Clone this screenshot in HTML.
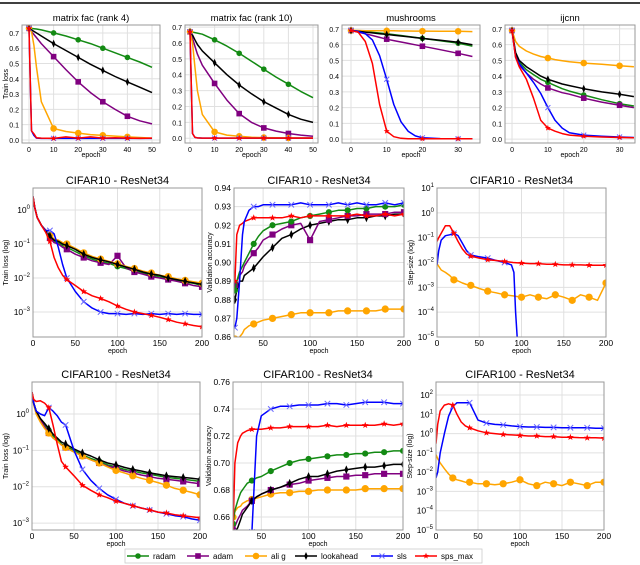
<!DOCTYPE html>
<html><head><meta charset="utf-8">
<style>
html,body{margin:0;padding:0;background:#fff;overflow:hidden;width:640px;height:565px;}
svg{display:block;font-family:"Liberation Sans",sans-serif;}
</style></head>
<body>
<svg id="fig" width="640" height="565" viewBox="0 0 640 565" xmlns="http://www.w3.org/2000/svg">
<rect x="0" y="0" width="640" height="565" fill="#fff"/>
<line x1="0" y1="3" x2="640" y2="3" stroke="#000" stroke-width="1.6"/>
</svg>
<script>
// ===== data: matrix fac rank 4 =====
const mf4Epochs=[0,1,2,3,5,10,15,20,25,30,35,40,45,50];
const mf4Radam=[0.73,0.73,0.728,0.726,0.72,0.70,0.68,0.655,0.63,0.60,0.57,0.54,0.51,0.475];
const mf4Adam=[0.73,0.71,0.69,0.67,0.63,0.545,0.46,0.38,0.31,0.25,0.20,0.155,0.125,0.105];
const mf4Alig=[0.73,0.71,0.62,0.48,0.25,0.075,0.055,0.045,0.035,0.03,0.025,0.02,0.016,0.012];
const mf4Look=[0.73,0.72,0.71,0.70,0.68,0.63,0.585,0.54,0.495,0.455,0.415,0.38,0.345,0.31];
const mf4Sls=[0.73,0.06,0.03,0.012,0.01,0.01,0.01,0.01,0.01,0.01,0.01,0.01,0.01,0.01];
const mf4Sps=[0.73,0.06,0.04,0.015,0.012,0.01,0.02,0.012,0.02,0.012,0.015,0.012,0.01,0.012];
// ===== matrix fac rank 10 =====
const mf10Epochs=[0,1,2,3,5,10,15,20,25,30,35,40,45,50];
const mf10Radam=[0.67,0.668,0.665,0.662,0.655,0.62,0.58,0.535,0.485,0.435,0.385,0.34,0.295,0.255];
const mf10Adam=[0.67,0.63,0.58,0.53,0.46,0.345,0.24,0.155,0.10,0.065,0.045,0.03,0.02,0.012];
const mf10Alig=[0.67,0.6,0.45,0.3,0.15,0.04,0.02,0.012,0.006,0.004,0.003,0.002,0.002,0.002];
const mf10Look=[0.67,0.65,0.62,0.59,0.55,0.475,0.40,0.335,0.28,0.23,0.19,0.15,0.12,0.10];
const mf10Sls=[0.67,0.03,0.005,0.002,0.001,0.001,0.001,0.001,0.001,0.001,0.001,0.001,0.001,0.001];
const mf10Sps=[0.67,0.03,0.006,0.002,0.001,0.001,0.001,0.001,0.001,0.001,0.001,0.001,0.001,0.001];
// ===== mushrooms =====
const mushEpochs=[0,2,4,6,8,10,12,14,16,18,20,25,30,34];
const mushRadam=[0.69,0.686,0.682,0.678,0.674,0.67,0.664,0.658,0.652,0.646,0.64,0.625,0.61,0.59];
const mushAdam=[0.69,0.68,0.669,0.658,0.646,0.635,0.626,0.617,0.608,0.599,0.59,0.568,0.545,0.525];
const mushAlig=[0.69,0.69,0.689,0.689,0.689,0.688,0.688,0.687,0.687,0.686,0.686,0.685,0.685,0.683];
const mushLook=[0.69,0.685,0.68,0.675,0.67,0.665,0.66,0.655,0.65,0.645,0.64,0.628,0.615,0.60];
const mushSls=[0.69,0.685,0.67,0.63,0.53,0.38,0.22,0.11,0.05,0.02,0.008,0.003,0.002,0.002];
const mushSps=[0.69,0.68,0.62,0.48,0.22,0.05,0.015,0.005,0.002,0.002,0.002,0.002,0.002,0.002];
// ===== ijcnn =====
const ijEpochs=[0,1,2,4,6,8,10,12,14,16,20,25,30,34];
const ijRadam=[0.69,0.54,0.49,0.44,0.41,0.38,0.36,0.34,0.32,0.305,0.28,0.25,0.225,0.21];
const ijAdam=[0.69,0.53,0.47,0.42,0.38,0.35,0.325,0.31,0.295,0.285,0.26,0.235,0.215,0.20];
const ijAlig=[0.69,0.62,0.59,0.56,0.54,0.525,0.515,0.505,0.498,0.492,0.483,0.475,0.466,0.46];
const ijLook=[0.69,0.55,0.50,0.46,0.43,0.40,0.38,0.365,0.35,0.34,0.32,0.30,0.285,0.27];
const ijSls=[0.69,0.52,0.48,0.42,0.36,0.29,0.20,0.12,0.07,0.04,0.025,0.018,0.013,0.01];
const ijSps=[0.69,0.52,0.46,0.38,0.26,0.12,0.07,0.05,0.035,0.025,0.018,0.013,0.01,0.008];
// ===== CIFAR10 train loss =====
const c10Epochs=[0,2,5,10,15,20,25,30,35,40,50,60,70,80,90,100,110,120,130,140,150,160,170,180,190,200];
const c10LossRadam=[2.5,1.2,0.6,0.35,0.25,0.16,0.12,0.11,0.09,0.08,0.06,0.045,0.036,0.03,0.027,0.022,0.019,0.016,0.014,0.012,0.011,0.0095,0.0085,0.0075,0.007,0.006];
const c10LossAdam=[2.5,1.2,0.6,0.35,0.24,0.15,0.11,0.10,0.08,0.07,0.05,0.04,0.032,0.028,0.025,0.045,0.02,0.015,0.013,0.011,0.010,0.009,0.008,0.007,0.006,0.0055];
const c10LossAlig=[2.5,1.2,0.6,0.35,0.26,0.18,0.14,0.13,0.11,0.10,0.075,0.055,0.043,0.036,0.031,0.026,0.022,0.019,0.016,0.014,0.012,0.011,0.0095,0.0085,0.0078,0.007];
const c10LossLook=[2.5,1.2,0.6,0.35,0.25,0.17,0.13,0.12,0.10,0.09,0.07,0.05,0.04,0.034,0.03,0.025,0.021,0.018,0.015,0.013,0.012,0.010,0.009,0.008,0.0072,0.0065];
const c10LossSls=[2.5,1.2,0.6,0.35,0.25,0.25,0.2,0.08,0.025,0.01,0.004,0.002,0.0013,0.001,0.0009,0.0009,0.00085,0.0009,0.00085,0.0009,0.00085,0.0009,0.00085,0.0009,0.00085,0.00085];
const c10LossSps=[2.5,1.2,0.6,0.35,0.22,0.12,0.04,0.02,0.012,0.009,0.006,0.004,0.003,0.0025,0.002,0.0015,0.0012,0.001,0.0009,0.0008,0.0007,0.0006,0.0005,0.00045,0.0004,0.00037];
// ===== CIFAR10 validation accuracy =====
const c10AccEpochs=[20,22,25,28,30,35,40,45,50,60,70,80,90,100,110,120,130,140,150,160,170,180,190,200];
const c10AccRadam=[0.885,0.89,0.895,0.898,0.90,0.905,0.91,0.914,0.917,0.92,0.921,0.922,0.924,0.925,0.926,0.927,0.928,0.928,0.929,0.929,0.93,0.93,0.93,0.931];
const c10AccAdam=[0.888,0.89,0.893,0.895,0.898,0.902,0.905,0.908,0.912,0.915,0.918,0.92,0.921,0.912,0.922,0.923,0.924,0.925,0.925,0.926,0.926,0.926,0.927,0.927];
const c10AccAlig=[0.855,0.858,0.86,0.862,0.864,0.866,0.867,0.868,0.869,0.870,0.871,0.872,0.873,0.873,0.873,0.873,0.874,0.874,0.874,0.874,0.874,0.875,0.875,0.875];
const c10AccLook=[0.88,0.885,0.89,0.89,0.893,0.895,0.897,0.90,0.903,0.908,0.913,0.915,0.918,0.92,0.921,0.922,0.923,0.923,0.924,0.924,0.925,0.925,0.926,0.926];
const c10AccSls=[0.865,0.87,0.89,0.915,0.922,0.928,0.930,0.930,0.931,0.931,0.931,0.931,0.932,0.931,0.931,0.931,0.932,0.931,0.932,0.931,0.931,0.932,0.931,0.932];
const c10AccSps=[0.89,0.915,0.92,0.921,0.922,0.923,0.924,0.924,0.924,0.924,0.924,0.925,0.924,0.925,0.925,0.925,0.925,0.925,0.926,0.925,0.925,0.926,0.925,0.926];
// ===== CIFAR10 step size =====
const c10StepEpochs=[0,2,5,10,15,20,25,30,35,40,50,60,70,80,90,100,110,120,130,140,150,160,170,180,190,200];
const c10StepAlig=[0.009,0.007,0.005,0.004,0.003,0.002,0.0018,0.0015,0.0013,0.0012,0.0009,0.0007,0.0006,0.0005,0.00045,0.0004,0.0005,0.0004,0.00035,0.0005,0.0004,0.0003,0.0005,0.0004,0.0003,0.0015];
const c10StepSps=[0.07,0.1,0.15,0.3,0.3,0.15,0.07,0.035,0.022,0.018,0.015,0.013,0.012,0.011,0.01,0.0095,0.009,0.009,0.0085,0.0085,0.008,0.008,0.008,0.0078,0.0078,0.0078];
const c10SlsEpochs=[0,2,5,10,15,20,25,30,35,40,50,60,70,80,88,91,93,95];
const c10StepSls=[0.008,0.03,0.08,0.12,0.13,0.15,0.12,0.06,0.03,0.02,0.017,0.015,0.012,0.01,0.008,0.004,0.0001,0.000001];
// ===== CIFAR100 train loss =====
const c100Epochs=[0,2,5,10,15,20,25,30,35,40,50,60,70,80,90,100,110,120,130,140,150,160,170,180,190,200];
const c100LossRadam=[4,2,1.2,0.7,0.5,0.35,0.25,0.2,0.15,0.13,0.1,0.075,0.06,0.05,0.04,0.035,0.03,0.027,0.024,0.022,0.02,0.018,0.017,0.016,0.015,0.014];
const c100LossAdam=[4,2,1.2,0.7,0.45,0.3,0.22,0.18,0.14,0.12,0.09,0.07,0.055,0.045,0.037,0.032,0.027,0.024,0.021,0.019,0.017,0.016,0.015,0.014,0.013,0.012];
const c100LossAlig=[4,1.8,1,0.6,0.4,0.3,0.22,0.18,0.14,0.12,0.09,0.07,0.055,0.045,0.035,0.028,0.024,0.02,0.017,0.015,0.013,0.011,0.009,0.008,0.007,0.006];
const c100LossLook=[4,2,1.2,0.75,0.55,0.4,0.28,0.22,0.17,0.15,0.11,0.085,0.07,0.055,0.045,0.04,0.034,0.03,0.027,0.024,0.022,0.02,0.019,0.018,0.017,0.016];
const c100LossSls=[4,2,1.2,1,0.9,1.5,1.2,0.9,0.6,0.5,0.1,0.03,0.015,0.009,0.006,0.0045,0.0035,0.003,0.0026,0.0023,0.002,0.0018,0.0016,0.0015,0.0013,0.0012];
const c100LossSps=[4,2.5,2.2,2.3,2,1.5,0.5,0.15,0.05,0.035,0.02,0.011,0.008,0.006,0.005,0.004,0.0035,0.003,0.0026,0.0023,0.002,0.0019,0.0017,0.0016,0.0015,0.0014];
// ===== CIFAR100 validation accuracy =====
const c100AccEpochs=[20,22,25,28,30,35,40,45,50,60,70,80,90,100,110,120,130,140,150,160,170,180,190,200];
const c100AccRadam=[0.655,0.665,0.672,0.678,0.68,0.685,0.687,0.689,0.69,0.694,0.697,0.70,0.702,0.703,0.704,0.705,0.706,0.706,0.707,0.707,0.708,0.708,0.709,0.709];
const c100AccAdam=[0.65,0.653,0.658,0.662,0.665,0.668,0.672,0.675,0.677,0.68,0.682,0.684,0.685,0.687,0.688,0.689,0.69,0.69,0.691,0.691,0.692,0.692,0.692,0.692];
const c100AccAlig=[0.66,0.664,0.667,0.668,0.67,0.672,0.673,0.674,0.675,0.677,0.678,0.678,0.679,0.679,0.68,0.68,0.68,0.68,0.68,0.681,0.681,0.681,0.681,0.681];
const c100AccLook=[0.645,0.648,0.652,0.658,0.662,0.667,0.672,0.675,0.677,0.68,0.682,0.685,0.688,0.69,0.69,0.692,0.694,0.695,0.696,0.697,0.697,0.698,0.699,0.699];
const c100AccSls=[0.60,0.60,0.60,0.60,0.60,0.60,0.64,0.72,0.735,0.74,0.742,0.742,0.743,0.743,0.743,0.744,0.744,0.743,0.744,0.745,0.745,0.745,0.744,0.744];
const c100AccSps=[0.65,0.70,0.715,0.72,0.722,0.724,0.725,0.725,0.725,0.726,0.726,0.727,0.727,0.727,0.727,0.728,0.727,0.728,0.728,0.728,0.728,0.729,0.728,0.729];
// ===== CIFAR100 step size =====
const c100StepEpochs=[0,2,5,10,15,20,25,30,35,40,50,60,70,80,90,100,110,120,130,140,150,160,170,180,190,200];
const c100StepAlig=[0.08,0.05,0.03,0.015,0.008,0.005,0.004,0.0035,0.003,0.003,0.0025,0.0025,0.0022,0.0025,0.003,0.004,0.0025,0.002,0.003,0.0025,0.002,0.003,0.0025,0.002,0.003,0.003];
const c100StepSls=[0.005,0.01,0.1,1,8,25,40,40,40,40,5,3.5,3,2.8,2.5,2.3,2.2,2.2,2.1,2.1,2,2,2,2,1.9,1.9];
const c100StepSps=[0.3,3,15,30,35,30,10,4,2.5,2,1.4,1.1,1,0.9,0.85,0.8,0.75,0.75,0.7,0.7,0.65,0.65,0.62,0.6,0.6,0.58];
// ===== legend / ticks =====
const legendLabels=['radam','adam','ali g','lookahead','sls','sps_max'];
const legendKeys=['radam','adam','alig','look','sls','sps'];
const topXTicks50=[0,10,20,30,40,50];
const topXTicks30=[0,10,20,30];
const topYTicks=[0,0.1,0.2,0.3,0.4,0.5,0.6,0.7];
const cifarXTicks=[0,50,100,150,200];
const accXTicks=[50,100,150,200];
const c10AccYTicks=[0.86,0.87,0.88,0.89,0.90,0.91,0.92,0.93,0.94];
const c100AccYTicks=[0.66,0.68,0.70,0.72,0.74,0.76];
const c10LossExp=[0,-1,-2,-3];
const c100LossExp=[0,-1,-2,-3];
const c10StepExp=[1,0,-1,-2,-3,-4,-5];
const c100StepExp=[2,1,0,-1,-2,-3,-4,-5];

const NS='http://www.w3.org/2000/svg';
const fig=document.getElementById('fig');
const COL={radam:'#138a13',adam:'#800080',alig:'#ffa500',look:'#000',sls:'#0000ff',sps:'#ff0000'};
function el(tag,attrs,parent){const e=document.createElementNS(NS,tag);for(const k in attrs)e.setAttribute(k,attrs[k]);(parent||fig).appendChild(e);return e;}
let clipId=0;

function makeAxes(o){
  const g=el('g',{});
  
  
  const ty=v=>o.log?Math.log10(v):v;
  const sx=v=>o.x0+(v-o.xmin)/(o.xmax-o.xmin)*(o.x1-o.x0);
  const syRaw=v=>o.y1-(ty(v)-o.ymin)/(o.ymax-o.ymin)*(o.y1-o.y0);
  const sy=v=>Math.max(o.y0-2,Math.min(o.y1+2,syRaw(v)));
  o.xticks.forEach(t=>{const x=sx(t);
    const gl=el('line',{x1:x,x2:x,y1:o.y0,y2:o.y1,stroke:'#e0e0e0','stroke-width':1},g);
    
    
    const tl=el('text',{x:x,y:o.y1+9,'font-size':o.fs||8,'text-anchor':'middle',fill:'#000'},g);tl.textContent=t;
    
    
  });
  o.yticks.forEach(t=>{const v=o.log?Math.pow(10,t):t;const y=syRaw(v);
    const gl=el('line',{x1:o.x0,x2:o.x1,y1:y,y2:y,stroke:'#e0e0e0','stroke-width':1},g);
    
    
    const tl=el('text',{x:o.x0-3,y:y+3,'font-size':o.fs||8,'text-anchor':'end',fill:'#000'},g);
    
    
    if(o.log){tl.textContent='10';const sp=el('tspan',{dy:-4,'font-size':6},tl);sp.textContent=(t<0?'\u2212'+(-t):t);}
    else tl.textContent=o.fmt?t.toFixed(o.fmt):t;
  });
  const cp=el('clipPath',{id:'cp'+(++clipId)},g);
  el('rect',{x:o.x0,y:o.y0,width:o.x1-o.x0,height:o.y1-o.y0},cp);
  const plot=el('g',{'clip-path':'url(#cp'+clipId+')'},g);
  const fr=el('rect',{x:o.x0,y:o.y0,width:o.x1-o.x0,height:o.y1-o.y0,fill:'none',stroke:'#999','stroke-width':1},g);
  
  
  const t=el('text',{x:(o.x0+o.x1)/2,y:o.y0-4,'font-size':o.tfs||9.5,'text-anchor':'middle',fill:'#000'},g);t.textContent=o.title;
  
  
  const xl=el('text',{x:(o.x0+o.x1)/2,y:o.y1+(o.xlOff||16),'font-size':7,'text-anchor':'middle',fill:'#000'},g);xl.textContent='epoch';
  
  
  if(o.ylabel){const yl=el('text',{x:0,y:0,'font-size':7,'text-anchor':'middle',fill:'#000',transform:`translate(${o.ylx},${(o.y0+o.y1)/2}) rotate(-90)`},g);yl.textContent=o.ylabel;
    
    }
  return {sx,sy,plot};
}
function marker(p,key,x,y,s){
  const c=COL[key];let m;
  if(key==='radam')m=el('circle',{cx:x,cy:y,r:2.8*s,fill:c},p);
  else if(key==='alig')m=el('circle',{cx:x,cy:y,r:3.3*s,fill:c},p);
  else if(key==='adam')m=el('rect',{x:x-2.8*s,y:y-2.8*s,width:5.6*s,height:5.6*s,fill:c},p);
  else if(key==='look')m=el('path',{d:`M${x},${y-4*s}L${x+1.8*s},${y}L${x},${y+4*s}L${x-1.8*s},${y}Z`,fill:c},p);
  else if(key==='sls'){const d=2.5*s;m=el('path',{d:`M${x-d},${y-d}L${x+d},${y+d}M${x-d},${y+d}L${x+d},${y-d}`,stroke:'#6b6bff','stroke-width':1},p);}
  else {let pts='';for(let i=0;i<10;i++){const r=(i%2?1.3:3.2)*s,a=-Math.PI/2+i*Math.PI/5;pts+=(x+r*Math.cos(a)).toFixed(1)+','+(y+r*Math.sin(a)).toFixed(1)+' ';}m=el('polygon',{points:pts,fill:c},p);}
  return m;
}
function series(ax,key,xs,ys,markEvery,ms){
  const d=xs.map((x,i)=>(i?'L':'M')+ax.sx(x).toFixed(1)+','+ax.sy(ys[i]).toFixed(1)).join('');
  const ln=el('path',{d:d,fill:'none',stroke:COL[key],'stroke-width':1.5,'stroke-linejoin':'round'},ax.plot);
  
  
  xs.forEach((x,i)=>{if(markEvery.includes(x)){const m=marker(ax.plot,key,ax.sx(x),ax.sy(ys[i]),ms||1);
    
    }});
}
const topMk=[0,10,20,30,40];
const cMk=[20,40,60,80,100,120,140,160,180,200];
const order=['radam','adam','alig','look','sls','sps'];
function topPanel(cfg,xs,data){
  const ax=makeAxes(cfg);
  order.forEach((k,i)=>series(ax,k,xs,data[i],topMk,1));
}
topPanel({name:'matrix-fac-rank4-chart',x0:22,x1:160,y0:25,y1:143,xmin:-2.85,xmax:53.25,ymin:-0.02,ymax:0.752,xticks:topXTicks50,yticks:topYTicks,fmt:1,title:'matrix fac (rank 4)',ylabel:'Train loss',ylx:8,fs:7,xlOff:14},mf4Epochs,[mf4Radam,mf4Adam,mf4Alig,mf4Look,mf4Sls,mf4Sps]);
topPanel({name:'matrix-fac-rank10-chart',x0:185,x1:318,y0:25,y1:143,xmin:-2.03,xmax:52.03,ymin:-0.03,ymax:0.713,xticks:topXTicks50,yticks:topYTicks,fmt:1,title:'matrix fac (rank 10)',fs:7,xlOff:14},mf10Epochs,[mf10Radam,mf10Adam,mf10Alig,mf10Look,mf10Sls,mf10Sps]);
topPanel({name:'mushrooms-chart',x0:342,x1:480,y0:25,y1:143,xmin:-2.52,xmax:36.13,ymin:-0.025,ymax:0.725,xticks:topXTicks30,yticks:topYTicks,fmt:1,title:'mushrooms',fs:7,xlOff:14},mushEpochs,[mushRadam,mushAdam,mushAlig,mushLook,mushSls,mushSps]);
topPanel({name:'ijcnn-chart',x0:505,x1:635,y0:25,y1:143,xmin:-1.96,xmax:34.3,ymin:-0.025,ymax:0.725,xticks:topXTicks30,yticks:topYTicks,fmt:1,title:'ijcnn',fs:7,xlOff:14},ijEpochs,[ijRadam,ijAdam,ijAlig,ijLook,ijSls,ijSps]);

function cifar(cfg,xs,data,keys){
  const ax=makeAxes(cfg);
  keys.forEach((k,i)=>series(ax,k,data[i][1]||xs,data[i][0],cMk,1.1));
}
cifar({name:'cifar10-train-loss-chart',x0:33,x1:202,y0:188,y1:337,xmin:0,xmax:200,log:true,ymin:-3.735,ymax:0.647,xticks:cifarXTicks,yticks:c10LossExp,title:'CIFAR10 - ResNet34',ylabel:'Train loss (log)',ylx:8,tfs:11,fs:8.5},c10Epochs,
  [[c10LossRadam],[c10LossAdam],[c10LossAlig],[c10LossLook],[c10LossSls],[c10LossSps]],order);
cifar({name:'cifar10-val-acc-chart',x0:234,x1:404,y0:188,y1:337,xmin:19,xmax:200,ymin:0.86,ymax:0.94,xticks:accXTicks,yticks:c10AccYTicks,fmt:2,title:'CIFAR10 - ResNet34',ylabel:'Validation accuracy',ylx:212,tfs:11,fs:8.5},c10AccEpochs,
  [[c10AccAlig],[c10AccLook],[c10AccAdam],[c10AccRadam],[c10AccSps],[c10AccSls]],['alig','look','adam','radam','sps','sls']);
cifar({name:'cifar10-step-size-chart',x0:437,x1:606,y0:188,y1:337,xmin:0,xmax:200,log:true,ymin:-5,ymax:1,xticks:cifarXTicks,yticks:c10StepExp,title:'CIFAR10 - ResNet34',ylabel:'Step-size (log)',ylx:413,tfs:11,fs:8.5},c10StepEpochs,
  [[c10StepAlig],[c10StepSls,c10SlsEpochs],[c10StepSps]],['alig','sls','sps']);
cifar({name:'cifar100-train-loss-chart',x0:32,x1:200,y0:382,y1:530,xmin:0,xmax:200,log:true,ymin:-3.19,ymax:0.88,xticks:cifarXTicks,yticks:c100LossExp,title:'CIFAR100 - ResNet34',ylabel:'Train loss (log)',ylx:8,tfs:11,fs:8.5},c100Epochs,
  [[c100LossRadam],[c100LossAdam],[c100LossAlig],[c100LossLook],[c100LossSls],[c100LossSps]],order);
cifar({name:'cifar100-val-acc-chart',x0:233,x1:403,y0:382,y1:530,xmin:20,xmax:200,ymin:0.6504,ymax:0.76,xticks:accXTicks,yticks:c100AccYTicks,fmt:2,title:'CIFAR100 - ResNet34',ylabel:'Validation accuracy',ylx:211,tfs:11,fs:8.5},c100AccEpochs,
  [[c100AccAlig],[c100AccAdam],[c100AccLook],[c100AccRadam],[c100AccSps],[c100AccSls]],['alig','adam','look','radam','sps','sls']);
cifar({name:'cifar100-step-size-chart',x0:436,x1:604,y0:382,y1:530,xmin:0,xmax:200,log:true,ymin:-5,ymax:2.674,xticks:cifarXTicks,yticks:c100StepExp,title:'CIFAR100 - ResNet34',ylabel:'Step-size (log)',ylx:412,tfs:11,fs:8.5},c100StepEpochs,
  [[c100StepAlig],[c100StepSls],[c100StepSps]],['alig','sls','sps']);

const lg=el('g',{});


el('rect',{x:125,y:549,width:357,height:14,fill:'#fff',stroke:'#ccc','stroke-width':0.8},lg);
const legX=[127,187,245,295,371,415];
legendKeys.forEach((k,i)=>{
  const x=legX[i];
  const e=el('g',{},lg);
  
  
  el('line',{x1:x,x2:x+22,y1:556,y2:556,stroke:COL[k],'stroke-width':1.5},e);
  marker(e,k,x+11,556,1.0);
  const t=el('text',{x:x+26,y:559,'font-size':8,fill:'#000'},e);t.textContent=legendLabels[i];
});
</script>
</body></html>
